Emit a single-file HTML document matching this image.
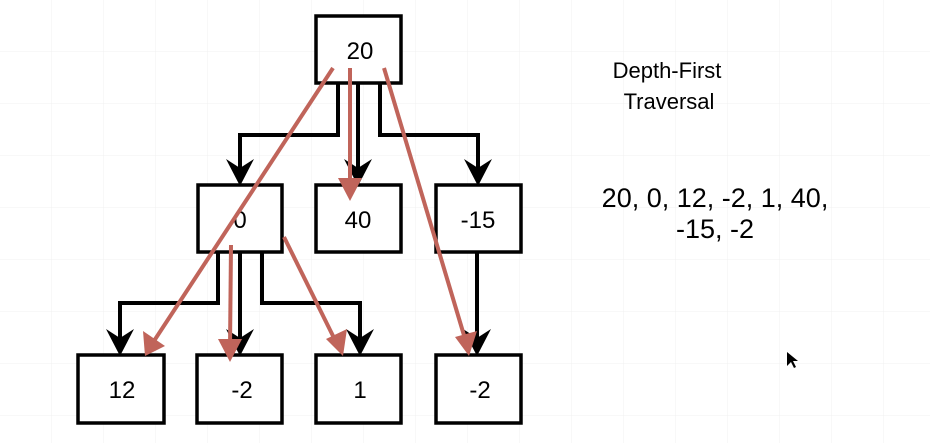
<!DOCTYPE html>
<html><head><style>
body{margin:0;background:#fff;}
svg{display:block;}
text{font-family:"Liberation Sans",Arial,sans-serif;}
</style></head><body>
<svg width="930" height="443" viewBox="0 0 930 443">
<defs>
<pattern id="g" width="52" height="52" patternUnits="userSpaceOnUse">
<path d="M52 0V52M0 52H52" stroke="#f0f0f0" stroke-width="1" fill="none"/>
</pattern>
</defs>
<rect width="930" height="443" fill="url(#g)"/>
<g fill="none" stroke="#000" stroke-width="4">
<path d="M338 83V135H240V170"/>
<path d="M358 83V170"/>
<path d="M380 83V135H478V170"/>
<path d="M218 252V303H120V340"/>
<path d="M240 252V340"/>
<path d="M262 252V303H360V340"/>
<path d="M477 252V340"/>
</g>
<g fill="#000">
<path d="M226 159L240 186L254 159L240 168Z"/>
<path d="M344 159L358 186L372 159L358 168Z"/>
<path d="M464 159L478 186L492 159L478 168Z"/>
<path d="M106 329L120 356L134 329L120 338Z"/>
<path d="M226 329L240 356L254 329L240 338Z"/>
<path d="M346 329L360 356L374 329L360 338Z"/>
<path d="M463 329L477 356L491 329L477 338Z"/>
</g>
<g fill="#fff" stroke="#000" stroke-width="3.5">
<rect x="316" y="16" width="85" height="67"/>
<rect x="198" y="185" width="84" height="67"/>
<rect x="316" y="185" width="85" height="67"/>
<rect x="436" y="185" width="85" height="67"/>
<rect x="78" y="355" width="86" height="68"/>
<rect x="197" y="355" width="85" height="68"/>
<rect x="316" y="355" width="85" height="68"/>
<rect x="436" y="355" width="85" height="68"/>
</g>
<g font-size="24" text-anchor="middle" fill="#000">
<text x="360" y="59">20</text>
<text x="240" y="228">0</text>
<text x="358" y="228">40</text>
<text x="478" y="228">-15</text>
<text x="122" y="398">12</text>
<text x="242" y="398">-2</text>
<text x="360" y="398">1</text>
<text x="480" y="398">-2</text>
</g>
<g stroke="#c0645a" stroke-width="4" fill="none">
<path d="M333 68L152 344"/>
<path d="M350 68L350 186"/>
<path d="M384 68L466 342"/>
<path d="M231 245L230 348"/>
<path d="M284 237L337 344"/>
</g>
<g fill="#c0645a">
<path d="M145 356L143 331L165 346Z"/>
<path d="M350 201L338 178L362 178Z"/>
<path d="M469 356L455 337L477 331Z"/>
<path d="M230 362L218 339L242 339Z"/>
<path d="M343 356L326 339L347 329Z"/>
</g>
<g text-anchor="middle" fill="#000">
<text x="667" y="78" font-size="22">Depth-First</text>
<text x="669" y="109" font-size="22">Traversal</text>
<text x="715" y="207" font-size="27">20, 0, 12, -2, 1, 40,</text>
<text x="715" y="238" font-size="27">-15, -2</text>
</g>
<path d="M787 352L787 366L791 362L794 368L796 367L793 361L798 361Z" fill="#000"/>
</svg>
</body></html>
